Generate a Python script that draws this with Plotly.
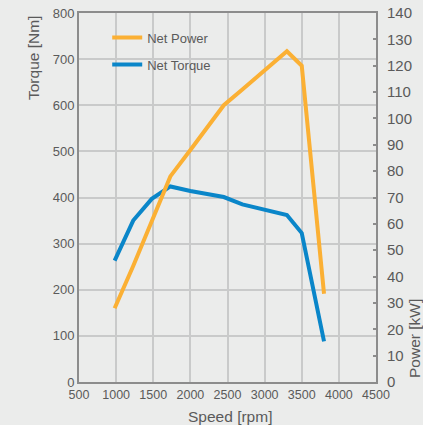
import plotly.graph_objects as go

# Data
speed_torque = [980, 1230, 1480, 1730, 2000, 2450, 2700, 3000, 3300, 3500, 3800]
net_torque = [263, 350, 397, 424, 414, 401, 385, 373, 362, 323, 88]

speed_power = [980, 1230, 1480, 1730, 2000, 2450, 2700, 3000, 3300, 3500, 3800]
net_power = [28, 44, 61, 78, 88, 105, 111, 118.5, 125.5, 120, 33.5]

x_ticks = [500, 1000, 1500, 2000, 2500, 3000, 3500, 4000, 4500]

ORANGE = "#fbb034"
BLUE = "#0a86c9"
TEXT = "#5a5a5a"
AXIS = "#8c8c8c"
GRID = "#c9caca"
BG = "#ebeceb"
FONT = "Liberation Sans, Arial, sans-serif"

fig = go.Figure()
fig.add_trace(go.Scatter(x=speed_power, y=net_power, name="Net Power", mode="lines",
                         line=dict(color=ORANGE, width=4), yaxis="y2", legendgroup="p"))
fig.add_trace(go.Scatter(x=speed_torque, y=net_torque, name="Net Torque", mode="lines",
                         line=dict(color=BLUE, width=4), yaxis="y", legendgroup="t"))

fig.update_layout(
    width=423, height=425,
    margin=dict(l=79, r=47, t=13, b=43, autoexpand=False),
    paper_bgcolor=BG, plot_bgcolor=BG,
    font=dict(family=FONT, color=TEXT, size=12),
    showlegend=True,
    legend=dict(x=0.095, y=0.974, xanchor="left", yanchor="top",
                bgcolor="rgba(0,0,0,0)", font=dict(size=13, color=TEXT),
                traceorder="grouped", tracegroupgap=7),
    xaxis=dict(range=[500, 4500], tickvals=x_ticks, ticktext=[str(v) for v in x_ticks],
               showgrid=True, gridcolor=GRID, gridwidth=1.5,
               showline=True, linecolor=AXIS, linewidth=2, mirror=True,
               ticks="", tickfont=dict(size=12.5, color=TEXT), zeroline=False,
               automargin=False),
    yaxis=dict(range=[0, 800], dtick=100, showgrid=True, gridcolor=GRID, gridwidth=1.5,
               showline=True, linecolor=AXIS, linewidth=2, mirror=True,
               ticks="", tickfont=dict(size=13, color=TEXT), zeroline=False,
               automargin=False),
    yaxis2=dict(range=[0, 140], dtick=10, overlaying="y", side="right", showgrid=False,
                showline=True, linecolor=AXIS, linewidth=2,
                ticks="inside", ticklen=3, tickwidth=1.5, tickcolor=AXIS,
                ticklabelstandoff=6, automargin=False,
                tickfont=dict(size=15, color=TEXT), zeroline=False),
)

# axis titles placed by pixel position, converted to paper coordinates
pl, pr, pt, pb = 79, 376, 13, 382
titles = [
    ("Torque [Nm]", 33, 58, -90),
    ("Power [kW]", 414, 339, -90),
    ("Speed [rpm]", 230, 416, 0),
]
for text, px, py, ang in titles:
    fig.add_annotation(text=text, x=(px - pl) / (pr - pl), y=(pb - py) / (pb - pt),
                       xref="paper", yref="paper", xanchor="center", yanchor="middle",
                       showarrow=False, textangle=ang, font=dict(size=15.5, color=TEXT))

fig.write_html("out.html", config={"displayModeBar": False},
               post_script="document.body.style.margin='0';")
